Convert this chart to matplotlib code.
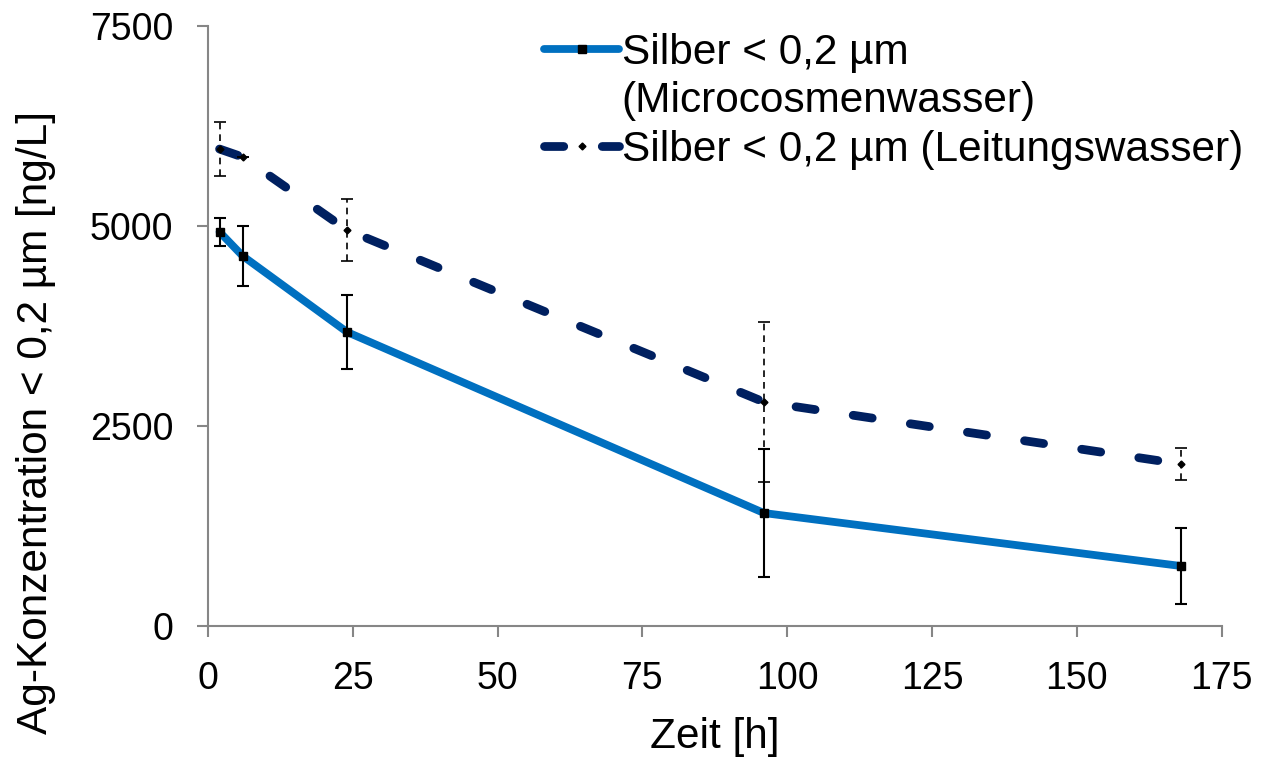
import numpy as np
import matplotlib.pyplot as plt
from matplotlib.lines import Line2D

plt.rcParams['font.family'] = ['Liberation Sans', 'DejaVu Sans']

# Microcosm water (solid line)
t_micro = [2, 6, 24, 96, 168]
ag_micro = [4925, 4625, 3675, 1412, 750]
err_micro = [180, 380, 460, 800, 470]

# Tap water (dashed line)
t_tap = [2, 6, 24, 96, 168]
ag_tap = [5962, 5862, 4950, 2800, 2025]
err_tap = [340, 0, 390, 1000, 200]

label_micro = ["Silber < 0,2 µm", "(Microcosmenwasser)"]
label_tap = "Silber < 0,2 µm (Leitungswasser)"

blue = "#0070C0"
navy = "#002060"
grey = "#868686"
fs_tick = 27
fs_lab = 30.5

fig = plt.figure(figsize=(12.62, 7.6), dpi=100)
ax = fig.add_axes([0.1648, 0.1763, 0.8032, 0.7895])

# tap water line
tap_line, = ax.plot(t_tap, ag_tap, color=navy, lw=6.3, dashes=(2.2, 4.4),
                    dash_capstyle="round", marker="D", markersize=3.5,
                    markerfacecolor="black", markeredgecolor="black", zorder=3)
eb = ax.errorbar(t_tap, ag_tap, yerr=err_tap, fmt="none", ecolor="black",
                 elinewidth=1.2, capsize=4.5, capthick=1.2, zorder=4)
eb[2][0].set_linestyle((0, (4, 3)))

# microcosm water line
micro_line, = ax.plot(t_micro, ag_micro, color=blue, lw=5.6, solid_capstyle="round",
                      marker="s", markersize=5.5, markerfacecolor="black",
                      markeredgecolor="black", zorder=3)
ax.errorbar(t_micro, ag_micro, yerr=err_micro, fmt="none", ecolor="black",
            elinewidth=1.5, capsize=4.5, capthick=1.5, zorder=4)

ax.set_xlim(0, 175)
ax.set_ylim(0, 7500)
ax.set_xticks(np.arange(0, 176, 25))
ax.set_yticks([0, 2500, 5000, 7500])

for side in ["top", "right"]:
    ax.spines[side].set_visible(False)
for side in ["left", "bottom"]:
    ax.spines[side].set_color(grey)
    ax.spines[side].set_linewidth(1.5)
ax.tick_params(direction="out", length=8, width=1.5, color=grey,
               labelsize=fs_tick)
ax.tick_params(axis="x", pad=17)
ax.tick_params(axis="y", pad=17)

ax.set_xlabel("Zeit [h]", fontsize=fs_lab)
ax.set_ylabel("Ag-Konzentration < 0,2 µm [ng/L]", fontsize=fs_lab)
ax.xaxis.set_label_coords(0.5, -0.151)
ax.yaxis.set_label_coords(-0.150, 0.34)

# the second line of the first label gets its own row with an empty handle
blank = Line2D([], [], color="none")
ax.legend([micro_line, blank, tap_line], label_micro + [label_tap], loc="upper left",
          bbox_to_anchor=(544 / 1262, 1 - 33 / 760), bbox_transform=fig.transFigure,
          frameon=False, fontsize=fs_lab, numpoints=1, handlelength=1.78,
          handletextpad=0.05, labelspacing=0.2, borderpad=0, borderaxespad=0)

fig.savefig("out.png", dpi=100)
